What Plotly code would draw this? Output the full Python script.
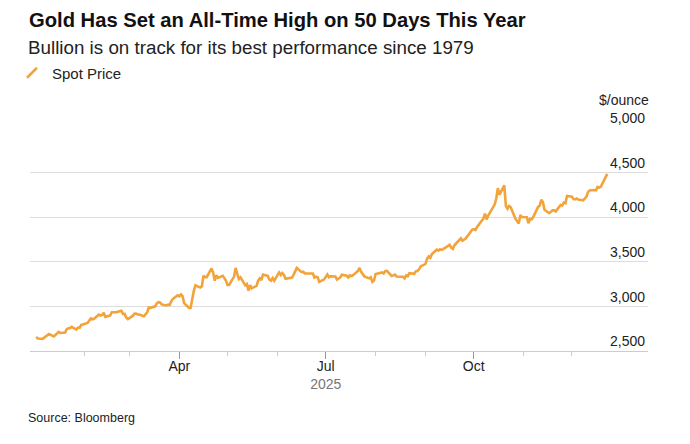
import pandas as pd
import plotly.graph_objects as go

# ---- data: daily spot gold price, $/ounce (business days 2025-01-02 .. 2025-12-23)
jan = [2658, 2640, 2636, 2648, 2662, 2670, 2690, 2663, 2677, 2697, 2715, 2702, 2708, 2744, 2755, 2755, 2770, 2740, 2763, 2760, 2794, 2798]
feb = [2815, 2842, 2866, 2856, 2861, 2908, 2898, 2904, 2928, 2883, 2898, 2935, 2933, 2939, 2936, 2951, 2915, 2916, 2876, 2858]
mar = [2893, 2918, 2920, 2910, 2910, 2889, 2916, 2934, 2988, 2984, 3001, 3035, 3048, 3044, 3022, 3011, 3020, 3018, 3057, 3085, 3124]
apr = [3113, 3134, 3114, 3037, 2982, 2982, 3083, 3175, 3237, 3211, 3226, 3343, 3327, 3327, 3425, 3381, 3288, 3349, 3319, 3343, 3317, 3288]
may = [3239, 3241, 3334, 3431, 3366, 3306, 3325, 3236, 3250, 3177, 3240, 3203, 3230, 3290, 3314, 3294, 3357, 3342, 3300, 3288, 3318, 3289]
jun = [3381, 3352, 3374, 3352, 3310, 3325, 3323, 3354, 3387, 3432, 3384, 3388, 3369, 3369, 3368, 3368, 3323, 3333, 3327, 3274, 3303]
jul = [3338, 3357, 3326, 3336, 3335, 3301, 3313, 3324, 3355, 3343, 3324, 3347, 3339, 3350, 3397, 3431, 3387, 3368, 3337, 3314, 3326, 3275, 3290]
aug = [3363, 3373, 3381, 3369, 3397, 3398, 3342, 3348, 3356, 3336, 3336, 3332, 3315, 3348, 3339, 3372, 3366, 3393, 3397, 3416, 3448]
sep = [3477, 3533, 3560, 3545, 3586, 3636, 3625, 3641, 3634, 3643, 3679, 3690, 3659, 3644, 3685, 3746, 3764, 3736, 3749, 3760, 3833, 3859]
octo = [3866, 3857, 3887, 3961, 3985, 4040, 3975, 4018, 4110, 4142, 4209, 4326, 4252, 4356, 4125, 4095, 4126, 4112, 3981, 3952, 3930, 4024, 4002]
nov = [4000, 3932, 3980, 3977, 4001, 4115, 4128, 4195, 4171, 4084, 4045, 4067, 4078, 4077, 4065, 4136, 4131, 4164, 4157, 4239]
dec = [4231, 4205, 4200, 4209, 4198, 4189, 4210, 4228, 4279, 4300, 4305, 4302, 4339, 4332, 4340, 4445, 4485]

prices = jan + feb + mar + apr + may + jun + jul + aug + sep + octo + nov + dec
dates = pd.bdate_range("2025-01-02", "2025-12-23")
assert len(dates) == len(prices)

series_name = "Spot Price"
y_ticks = [2500, 3000, 3500, 4000, 4500, 5000]
x_major = ["2025-04-01", "2025-07-01", "2025-10-01"]
x_major_text = ["Apr", "Jul<br><span style='color:#777777'>2025</span>", "Oct"]
x_minor = ["2025-02-01", "2025-03-01", "2025-05-01", "2025-06-01", "2025-08-01",
           "2025-09-01", "2025-11-01", "2025-12-01"]

ORANGE = "#F2A33A"
FONT = "Liberation Sans, Arial, sans-serif"

fig = go.Figure()
fig.add_trace(go.Scatter(x=dates, y=prices, mode="lines",
                         line=dict(color=ORANGE, width=2.6),
                         showlegend=False, hoverinfo="skip"))
# legend entry with slanted icon
fig.add_trace(go.Scatter(x=[None], y=[None], mode="markers", name=series_name,
                         marker=dict(symbol="line-ne", size=10, color=ORANGE,
                                     line=dict(color=ORANGE, width=2.5))))

W, H = 690, 444
L, R, T, B = 30, 42, 128, 93
pw = W - L - R
ph = H - T - B

def py(pix):
    return (H - B - pix) / ph

def px(pix):
    return (pix - L) / pw

fig.update_layout(
    width=W, height=H,
    margin=dict(l=L, r=R, t=T, b=B),
    paper_bgcolor="white", plot_bgcolor="white",
    font=dict(family=FONT, color="#222222", size=14),
    title=dict(text="<b>Gold Has Set an All-Time High on 50 Days This Year</b>",
               x=(L - 1) / W, xref="container", xanchor="left",
               y=1 - 20 / H, yref="container", yanchor="middle",
               font=dict(size=20.2, color="#111111", family=FONT)),
    legend=dict(x=px(12), xanchor="left", y=py(73), yanchor="middle",
                font=dict(size=15, color="#222222"), bgcolor="rgba(0,0,0,0)",
                itemwidth=30),
    xaxis=dict(type="date", range=["2024-12-29 04:00", "2026-01-17 08:00"],
               tickmode="array", tickvals=x_major, ticktext=x_major_text,
               ticks="outside", ticklen=7, tickcolor="#999999", tickwidth=1,
               ticklabelstandoff=-5,
               tickfont=dict(size=14, color="#222222"),
               showgrid=False, showline=True, linecolor="#cccccc", linewidth=1,
               zeroline=False,
               minor=dict(tickmode="array", tickvals=x_minor, ticks="outside",
                          ticklen=4, tickcolor="#cccccc", tickwidth=1, showgrid=False)),
    yaxis=dict(range=[2500, 5000], side="right", tickmode="array", tickvals=y_ticks,
               tickformat=",", ticklabelposition="inside top", ticklabeloverflow="allow",
               ticks="", showgrid=True, gridcolor="#dddddd", gridwidth=1,
               zeroline=False, showline=False,
               tickfont=dict(size=14, color="#222222")),
    annotations=[
        dict(text="Bullion is on track for its best performance since 1979",
             xref="paper", yref="paper", x=px(26), y=py(47), xanchor="left", yanchor="middle",
             showarrow=False, font=dict(size=18.8, color="#222222")),
        dict(text="$/ounce", xref="paper", yref="paper", x=px(651), y=py(100),
             xanchor="right", yanchor="middle", showarrow=False,
             font=dict(size=14, color="#222222")),
        dict(text="Source: Bloomberg", xref="paper", yref="paper", x=px(26), y=py(418),
             xanchor="left", yanchor="middle", showarrow=False,
             font=dict(size=12.5, color="#222222")),
    ],
)

fig.write_html("out.html")
